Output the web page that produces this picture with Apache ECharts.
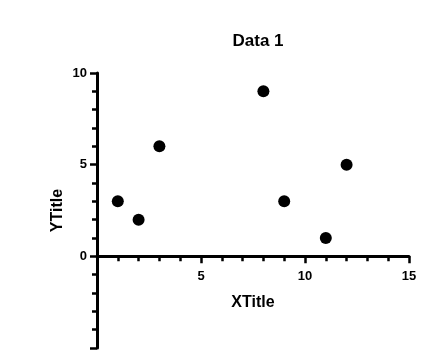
<!DOCTYPE html>
<html><head><meta charset="utf-8">
<script src="https://cdn.jsdelivr.net/npm/echarts@6/dist/echarts.min.js"></script>
<style>html,body{margin:0;padding:0;background:#fff}#c{width:444px;height:358px}</style>
</head><body><div id="c"></div>
<script>
const xValues = [1, 2, 3, 8, 9, 11, 12];
const yValues = [3, 2, 6, 9, 3, 1, 5];
const xTicks = [5, 10, 15];
const yTicks = [0, 5, 10];

const points = xValues.map((x, i) => [x, yValues[i]]);
const font = 'Liberation Sans, Arial, sans-serif';
const chart = echarts.init(document.getElementById('c'), null, {renderer: 'canvas'});
chart.setOption({
  animation: false,
  backgroundColor: '#fff',
  title: {text: 'Data 1', left: 253, top: 28, textAlign: 'center',
    textStyle: {fontFamily: font, fontSize: 17, fontWeight: 'bold', color: '#000'}},
  grid: {left: 97, right: 35, top: 73, bottom: 10, containLabel: false, outerBoundsMode: 'none'},
  xAxis: {
    type: 'value', min: 0, max: 15, interval: 5,
    name: 'XTitle', nameLocation: 'middle', nameGap: -53, nameMoveOverlap: false,
    nameTextStyle: {fontFamily: font, fontSize: 16, fontWeight: 'bold', color: '#000'},
    axisLine: {onZero: true, lineStyle: {color: '#000', width: 3}},
    axisTick: {show: true, inside: false, length: 7, lineStyle: {color: '#000', width: 2.5}},
    minorTick: {show: true, splitNumber: 5, length: 5, lineStyle: {color: '#000', width: 2.5}},
    splitLine: {show: false},
    axisLabel: {fontFamily: font, fontSize: 13, fontWeight: 'bold', color: '#000', margin: -78,
      formatter: v => xTicks.includes(v) ? String(v) : ''}
  },
  yAxis: {
    type: 'value', min: -5, max: 10, interval: 5,
    name: 'YTitle', nameLocation: 'middle', nameGap: 31, nameMoveOverlap: false,
    nameTextStyle: {fontFamily: font, fontSize: 16, fontWeight: 'bold', color: '#000'},
    axisLine: {onZero: false, lineStyle: {color: '#000', width: 3}},
    axisTick: {show: true, inside: false, length: 7, lineStyle: {color: '#000', width: 2.5}},
    minorTick: {show: true, splitNumber: 5, length: 5, lineStyle: {color: '#000', width: 2.5}},
    splitLine: {show: false},
    axisLabel: {fontFamily: font, fontSize: 13, fontWeight: 'bold', color: '#000', margin: 10,
      formatter: v => yTicks.includes(v) ? String(v) : ''}
  },
  series: [{
    type: 'scatter', data: points, symbol: 'circle', symbolSize: 12,
    itemStyle: {color: '#000', opacity: 1}
  }]
});
</script></body></html>
